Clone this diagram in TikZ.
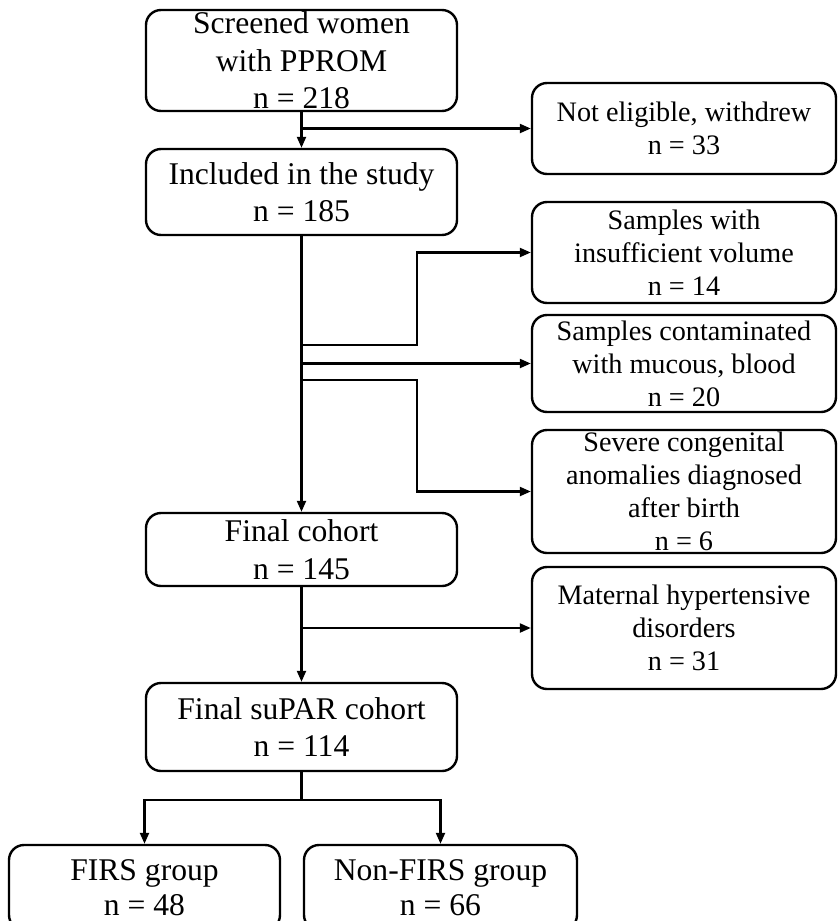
\documentclass[tikz,border=0pt]{standalone}
\usepackage{fontspec}
\setmainfont{Liberation Serif}
\usetikzlibrary{arrows.meta}
\begin{document}
\begin{tikzpicture}[x=1pt,y=-1pt,
  box/.style={draw, line width=2.4pt, rounded corners=15pt, align=center, inner sep=0pt},
  lbox/.style={box, font=\fontsize{31.6}{37.5}\selectfont, minimum width=311pt},
  rbox/.style={box, font=\fontsize{28.2}{33}\selectfont, minimum width=304pt},
  bbox/.style={box, font=\fontsize{31.6}{35}\selectfont},
  conn/.style={line width=2.2pt},
  arr/.style={conn, -{Triangle[length=11pt,width=9pt]}}
]
\useasboundingbox (0,0) rectangle (839,921);
\clip (0,0) rectangle (839,921);

\node[lbox, minimum height=101pt] (A) at (301.5,60.5) {Screened women\\with PPROM\\n = 218};
\node[lbox, minimum height=86pt] (B) at (301.5,192) {Included in the study\\n = 185};
\node[rbox, minimum height=91pt] (C) at (684,128.5) {Not eligible, withdrew\\n = 33};
\node[rbox, minimum height=101pt] (D) at (684,252.5) {Samples with\\insufficient volume\\n = 14};
\node[rbox, minimum height=97pt] (E) at (684,363.5) {Samples contaminated\\with mucous, blood\\n = 20};
\node[rbox, minimum height=123pt] (F) at (684,491.5) {Severe congenital\\anomalies diagnosed\\after birth\\n = 6};
\node[lbox, minimum height=73pt] (G) at (301.5,549.5) {Final cohort\\n = 145};
\node[rbox, minimum height=122pt] (H) at (684,628) {Maternal hypertensive\\disorders\\n = 31};
\node[lbox, minimum height=88pt] (I) at (301.5,727) {Final suPAR cohort\\n = 114};
\node[bbox, minimum width=271pt, minimum height=85pt] (J) at (144.5,887.5) {FIRS group\\n = 48};
\node[bbox, minimum width=273pt, minimum height=85pt] (K) at (440.5,887.5) {Non-FIRS group\\n = 66};

\draw[arr] (A) -- (B);
\coordinate (c0) at (A.south |- C.west);
\draw[arr] (c0) -- (C.west);

\draw[arr] (B) -- (G);
\coordinate (d0) at (301.5,345);
\coordinate (d1) at (417,345);
\draw[arr] (d0) -- (d1) |- (D.west);
\coordinate (e0) at (B.south |- E.west);
\draw[arr] (e0) -- (E.west);
\coordinate (f0) at (301.5,380);
\coordinate (f1) at (417,380);
\draw[arr] (f0) -- (f1) |- (F.west);

\draw[arr] (G) -- (I);
\coordinate (h0) at (G.south |- H.west);
\draw[arr] (h0) -- (H.west);

\coordinate (s0) at (301.5,800);
\draw[conn] (I.south) -- (s0);
\draw[arr] (s0) -| (J.north);
\draw[arr] (s0) -| (K.north);
\end{tikzpicture}
\end{document}
